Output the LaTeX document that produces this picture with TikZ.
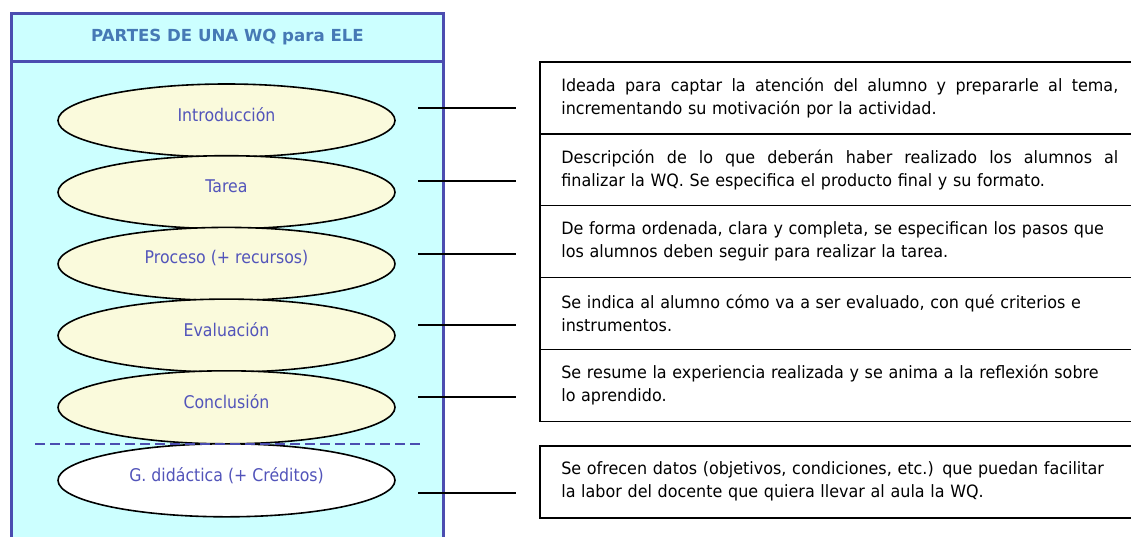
\documentclass[tikz,border=0pt]{standalone}
\usepackage{fontspec}
\setmainfont{DejaVu Sans}
\newfontfamily\lfont[FakeStretch=0.9]{DejaVu Sans}
\newfontfamily\rfont[FakeStretch=0.94]{DejaVu Sans}
\usetikzlibrary{shapes.geometric}
\definecolor{panelblue}{HTML}{4B4DB0}
\definecolor{panelfill}{HTML}{CCFFFF}
\definecolor{ovalfill}{HTML}{FAFADC}
\definecolor{ovaltext}{HTML}{5254BA}
\definecolor{headtext}{HTML}{4679B5}
\newcommand{\jline}[1]{\makebox[557pt][s]{\spaceskip=0pt\xspaceskip=0pt\relax #1}}
\begin{document}
\begin{tikzpicture}[x=1pt,y=-1pt,
 oval/.style={ellipse, draw=black, line width=1.6pt, fill=ovalfill, minimum width=337pt, minimum height=73pt, inner sep=0pt},
 ovaltxt/.style={font=\lfont\fontsize{17.5}{20}\selectfont, text=ovaltext, inner sep=0pt},
 desc/.style={draw=black, line width=1.6pt, fill=white, anchor=north west, minimum width=600pt, minimum height=71.9pt, text width=557pt, inner xsep=21pt, inner ysep=0pt, align=left, font=\rfont\fontsize{17}{23}\selectfont},
 link/.style={draw=black, line width=1.5pt},
 panel/.style={draw=panelblue, line width=3.5pt, fill=panelfill},
 divider/.style={draw=panelblue, line width=2.5pt, dash pattern=on 10pt off 5pt}
]
\useasboundingbox (0,0) rectangle (1131,536);
\fill[white] (0,0) rectangle (1131,536);

% left panel
\draw[panel] (11.5,13.5) rectangle (443.5,560);
\draw[draw=panelblue, line width=3pt] (11.5,61) -- (443.5,61);
\node[font=\bfseries\fontsize{16.6}{20}\selectfont, text=headtext] (hdr) at (227.5,37) {PARTES DE UNA WQ para ELE};

% ellipses
\node[oval] (e1) at (226.5,120.5) {};
\node[oval] (e2) at (226.5,192.2) {};
\node[oval] (e3) at (226.5,263.9) {};
\node[oval] (e4) at (226.5,335.6) {};
\node[oval] (e5) at (226.5,407.3) {};
\node[oval, fill=white] (e6) at (226.5,480.3) {};
\node[ovaltxt] (t1) at ([yshift=5.5pt]e1.center) {Introducción};
\node[ovaltxt] (t2) at ([yshift=5.5pt]e2.center) {Tarea};
\node[ovaltxt] (t3) at ([yshift=5.5pt]e3.center) {Proceso (+ recursos)};
\node[ovaltxt] (t4) at ([yshift=5.5pt]e4.center) {Evaluación};
\node[ovaltxt] (t5) at ([yshift=5.5pt]e5.center) {Conclusión};
\node[ovaltxt] (t6) at ([yshift=4.5pt]e6.center) {G. didáctica (+ Créditos)};

% dashed divider
\coordinate (d1) at (35,444);
\coordinate (d2) at (420,444);
\draw[divider] (d1) -- (d2);

% description boxes
\node[desc] (b1) at (539,61) {\jline{Ideada para captar la atención del alumno y prepararle al tema,}\\incrementando su motivación por la actividad.};
\node[desc] (b2) at (539,132.9) {\jline{Descripción de lo que deberán haber realizado los alumnos al}\\finalizar la WQ. Se especifica el producto final y su formato.};
\node[desc] (b3) at (539,204.8) {De forma ordenada, clara y completa, se especifican los pasos que\\los alumnos deben seguir para realizar la tarea.};
\node[desc] (b4) at (539,276.7) {Se indica al alumno cómo va a ser evaluado, con qué criterios e\\instrumentos.};
\node[desc] (b5) at (539,348.6) {Se resume la experiencia realizada y se anima a la reflexión sobre\\lo aprendido.};
\node[desc, minimum height=72pt] (b6) at (539,445) {Se ofrecen datos (objetivos, condiciones, etc.) que puedan facilitar\\la labor del docente que quiera llevar al aula la WQ.};

% connectors
\coordinate (c1a) at (418,108); \coordinate (c1b) at (516,108);
\coordinate (c2a) at (418,181); \coordinate (c2b) at (516,181);
\coordinate (c3a) at (418,254); \coordinate (c3b) at (516,254);
\coordinate (c4a) at (418,325); \coordinate (c4b) at (516,325);
\coordinate (c5a) at (418,397); \coordinate (c5b) at (516,397);
\coordinate (c6a) at (418,493); \coordinate (c6b) at (516,493);
\draw[link] (c1a) -- (c1b);
\draw[link] (c2a) -- (c2b);
\draw[link] (c3a) -- (c3b);
\draw[link] (c4a) -- (c4b);
\draw[link] (c5a) -- (c5b);
\draw[link] (c6a) -- (c6b);
\end{tikzpicture}
\end{document}
